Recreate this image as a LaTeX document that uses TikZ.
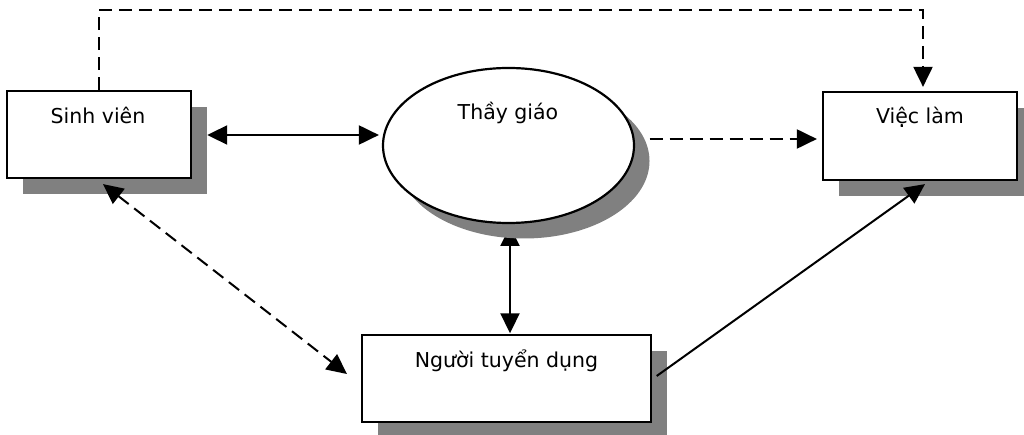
\documentclass[tikz,border=0pt]{standalone}
\usepackage{fontspec}
\setmainfont{DejaVu Sans}
\usetikzlibrary{shapes.geometric,arrows.meta,calc}
\definecolor{shade}{RGB}{128,128,128}
\tikzset{
  boxnode/.style={draw=black, line width=2.2pt, fill=white, rectangle, inner sep=0pt},
  shadownode/.style={draw=none, fill=shade, rectangle, inner sep=0pt},
  ellnode/.style={draw=black, line width=2.2pt, fill=white, ellipse, inner sep=0pt},
  ellshadow/.style={draw=none, fill=shade, ellipse, inner sep=0pt},
  lbl/.style={anchor=base, inner sep=0pt, font=\fontsize{20.5}{24}\selectfont},
  tip/.style={line width=2pt, -{Triangle[length=20pt,width=19pt]}},
  twotip/.style={line width=2pt, {Triangle[length=20pt,width=19pt]}-{Triangle[length=20pt,width=19pt]}},
  dashline/.style={dash pattern=on 13pt off 7pt}
}
\begin{document}
\begin{tikzpicture}[x=1pt,y=-1pt]
\useasboundingbox (0,0) rectangle (1024,435);
% shape anchors (invisible) used by the hidden connector
\node[minimum width=289pt, minimum height=87pt, inner sep=0pt] (ntpos) at (506.5,378.5) {};
\coordinate (tgbottom) at (510,226);
% connector partly hidden behind the ellipse shadow
\draw[twotip] (tgbottom) -- ($(ntpos.north)+(3.5,-1.5)$);
\begin{scope}
\clip (0,0) rectangle (1024,435);
% shadows
\node[shadownode, minimum width=184pt, minimum height=87pt] (svs) at (115,151) {};
\node[ellshadow, minimum width=251pt, minimum height=155pt] (tgs) at (524,161) {};
\node[shadownode, minimum width=194pt, minimum height=88pt] (vls) at (936,152) {};
\node[shadownode, minimum width=289pt, minimum height=87pt] (nts) at (522,394) {};
\end{scope}
% shapes
\node[boxnode, minimum width=184pt, minimum height=87pt] (sv) at (99,134.5) {};
\node[ellnode, minimum width=251pt, minimum height=155pt] (tg) at (508.5,145.5) {};
\node[boxnode, minimum width=194pt, minimum height=88pt] (vl) at (920,136) {};
\node[boxnode, minimum width=289pt, minimum height=87pt] (nt) at (506.5,378.5) {};
% labels
\node[lbl] (svt) at (98,124) {Sinh viên};
\node[lbl] (tgt) at (508,120) {Thầy giáo};
\node[lbl] (vlt) at (920,124) {Việc làm};
\node[lbl] (ntt) at (506.5,367) {Người tuyển dụng};
% connectors
\draw[twotip] ($(svs.east)+(0,-16)$) -- ($(tg.west)+(-3,-10.5)$);
\draw[tip, dashline] ($(tgs.east)+(0,-22)$) -- ($(vl.west)+(-5,3)$);
\draw[tip, dashline] (sv.north) -- ($(sv.north)+(0,-80)$) -| ($(vl.north)+(3,-4)$);
\draw[twotip, dashline] ($(sv.south)+(4,5)$) -- ($(nt.west)+(-14,-4.5)$);
\draw[tip] ($(nts.east)+(-10,-18)$) -- ($(vl.south)+(5,3)$);
\end{tikzpicture}
\end{document}
